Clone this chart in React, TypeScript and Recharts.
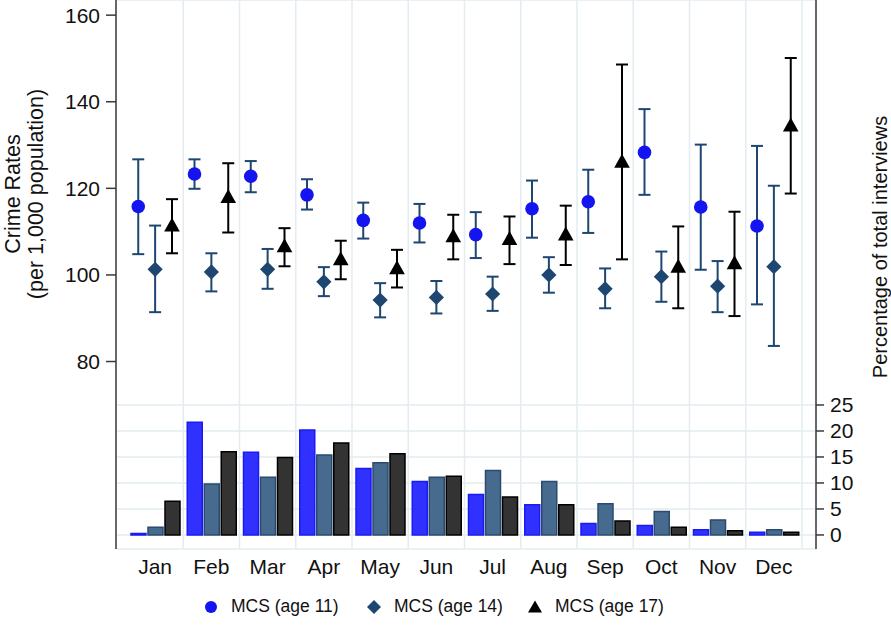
import { Bar, CartesianGrid, ComposedChart, ErrorBar, Scatter, XAxis, YAxis } from 'recharts';

const months = ['Jan', 'Feb', 'Mar', 'Apr', 'May', 'Jun', 'Jul', 'Aug', 'Sep', 'Oct', 'Nov', 'Dec'];

// share of interviews per month (%), right axis
const share11 = [0.3, 21.7, 15.9, 20.2, 12.8, 10.3, 7.8, 5.8, 2.2, 1.8, 1.0, 0.5];
const share14 = [1.5, 9.8, 11.1, 15.4, 13.9, 11.1, 12.4, 10.3, 6.0, 4.5, 2.9, 1.0];
const share17 = [6.5, 16.0, 14.9, 17.7, 15.6, 11.3, 7.3, 5.8, 2.7, 1.5, 0.8, 0.5];

// crime rates per 1,000 with confidence bounds, left axis
const rate11 = [115.8, 123.3, 122.8, 118.5, 112.6, 112.0, 109.3, 115.3, 116.9, 128.3, 115.7, 111.3];
const low11 = [104.8, 119.9, 119.1, 115.1, 108.4, 107.5, 103.9, 108.6, 109.7, 118.5, 101.2, 93.2];
const high11 = [126.7, 126.7, 126.3, 122.1, 116.7, 116.4, 114.5, 121.8, 124.3, 138.3, 130.1, 129.8];

const rate14 = [101.3, 100.7, 101.3, 98.4, 94.2, 94.8, 95.6, 100.0, 96.8, 99.6, 97.4, 101.9];
const low14 = [91.4, 96.2, 96.8, 95.1, 90.2, 91.1, 91.7, 95.9, 92.3, 93.8, 91.4, 83.6];
const high14 = [111.4, 105.0, 106.0, 101.8, 98.1, 98.6, 99.6, 104.1, 101.5, 105.4, 103.2, 120.6];

const rate17 = [111.3, 117.9, 106.5, 103.5, 101.4, 108.8, 108.2, 109.2, 126.0, 101.8, 102.6, 134.4];
const low17 = [105.0, 109.8, 102.0, 99.0, 97.1, 103.6, 102.5, 102.3, 103.6, 92.3, 90.5, 118.8];
const high17 = [117.5, 125.8, 110.8, 107.9, 105.8, 113.9, 113.5, 116.0, 148.6, 111.2, 114.6, 150.1];

const rateTicks = [80, 100, 120, 140, 160];
const shareTicks = [0, 5, 10, 15, 20, 25];
const monthEdges = months.map((_, i) => i + 1.5);

const FONT = '"Liberation Sans", Arial, sans-serif';
const BLUE = '#1414f0';
const NAVY = '#1d4670';
const AXIS = '#3a3a3a';

const barRows = months.map((month, i) => ({ month, s11: share11[i], s14: share14[i], s17: share17[i] }));

// scatter x sits on a numeric month axis, nudged to line up with its bar
function points(rate: number[], low: number[], high: number[], nudge: number) {
  return rate.map((y, i) => ({ x: i + 1 + nudge, y, err: [y - low[i], high[i] - y] }));
}

const pts11 = points(rate11, low11, high11, -0.3);
const pts14 = points(rate14, low14, high14, 0);
const pts17 = points(rate17, low17, high17, 0.3);

function Dot({ cx, cy }: any) {
  return <circle cx={cx} cy={cy} r={6.8} fill={BLUE} />;
}

function Diamond({ cx, cy }: any) {
  const s = 7.6;
  return <polygon points={`${cx},${cy - s} ${cx + s},${cy} ${cx},${cy + s} ${cx - s},${cy}`} fill={NAVY} />;
}

function Triangle({ cx, cy }: any) {
  return <polygon points={`${cx},${cy - 8.5} ${cx + 7.8},${cy + 5.5} ${cx - 7.8},${cy + 5.5}`} fill="#000" />;
}

// keeps the tick marks on the month-edge axis but draws no label
function NoLabel() {
  return <g />;
}

function LeftTitle({ viewBox }: any) {
  const x = (viewBox?.x ?? 0) + 12;
  const y = (viewBox?.y ?? 0) + 194;
  return (
    <text transform={`rotate(-90 ${x} ${y})`} x={x} y={y} textAnchor="middle" fontSize={21.5} fontFamily={FONT} fill="#111">
      <tspan x={x} dy="0.35em">Crime Rates</tspan>
      <tspan x={x} dy="1.1em">(per 1,000 population)</tspan>
    </text>
  );
}

function RightTitle({ viewBox }: any) {
  const x = (viewBox?.x ?? 816) + 64;
  const y = 247;
  return (
    <text transform={`rotate(-90 ${x} ${y})`} x={x} y={y} dy="0.35em" textAnchor="middle" fontSize={20} fontFamily={FONT} fill="#111">
      Percentage of total interviews
    </text>
  );
}

const legendItems = [
  { label: 'MCS (age 11)', left: 203, icon: <circle cx={8} cy={8} r={6} fill={BLUE} /> },
  { label: 'MCS (age 14)', left: 366, icon: <polygon points="8,1 15,8 8,15 1,8" fill={NAVY} /> },
  { label: 'MCS (age 17)', left: 527, icon: <polygon points="8,1.5 15,13.5 1,13.5" fill="#000" /> },
];

export default function App() {
  const tick = { fontSize: 21, fontFamily: FONT, fill: '#111' };
  return (
    <div style={{ position: 'absolute', left: 0, top: 0, width: 891, height: 626, background: '#fff' }}>
      <ComposedChart
        width={891}
        height={626}
        data={barRows}
        margin={{ top: 0, right: 0, bottom: 47, left: 0 }}
        barCategoryGap={4}
        barGap={2}
      >
        <CartesianGrid xAxisId="num" yAxisId="right" stroke="#e3ecf0" strokeWidth={1.5} />
        <XAxis
          xAxisId="num"
          dataKey="x"
          type="number"
          domain={[0.5, 12.5]}
          ticks={monthEdges}
          interval={0}
          padding={{ left: 11, right: 14 }}
          height={0}
          tick={<NoLabel />}
          tickSize={8}
          axisLine={{ stroke: AXIS, strokeWidth: 1.5 }}
          tickLine={{ stroke: AXIS, strokeWidth: 1.5 }}
        />
        <XAxis
          xAxisId="cat"
          dataKey="month"
          type="category"
          padding={{ left: 11, right: 14 }}
          height={30}
          axisLine={false}
          tickLine={false}
          tickSize={8}
          tickMargin={2}
          tick={tick}
          interval={0}
        />
        <YAxis
          yAxisId="left"
          dataKey="y"
          type="number"
          width={116}
          domain={[36.7, 163.5]}
          ticks={rateTicks}
          interval={0}
          allowDataOverflow
          tickSize={10}
          tickMargin={6}
          tick={tick}
          axisLine={{ stroke: AXIS, strokeWidth: 1.5 }}
          tickLine={{ stroke: AXIS, strokeWidth: 1.5 }}
          label={{ content: <LeftTitle /> }}
        />
        <YAxis
          yAxisId="right"
          orientation="right"
          type="number"
          width={75}
          domain={[-2.7, 102.9]}
          ticks={shareTicks}
          interval={0}
          allowDataOverflow
          tickSize={8}
          tickMargin={6}
          tick={tick}
          axisLine={{ stroke: AXIS, strokeWidth: 1.5 }}
          tickLine={{ stroke: AXIS, strokeWidth: 1.5 }}
          label={{ content: <RightTitle /> }}
        />
        <Bar xAxisId="cat" yAxisId="right" dataKey="s11" fill="#3030ff" stroke="#1a1af5" strokeWidth={1.5} isAnimationActive={false} />
        <Bar xAxisId="cat" yAxisId="right" dataKey="s14" fill="#476a8f" stroke="#2a4b6e" strokeWidth={1.5} isAnimationActive={false} />
        <Bar xAxisId="cat" yAxisId="right" dataKey="s17" fill="#333333" stroke="#000" strokeWidth={1.5} isAnimationActive={false} />
        <Scatter xAxisId="num" yAxisId="left" data={pts11} shape={<Dot />} isAnimationActive={false}>
          <ErrorBar dataKey="err" direction="y" width={6} stroke={NAVY} strokeWidth={2} />
        </Scatter>
        <Scatter xAxisId="num" yAxisId="left" data={pts14} shape={<Diamond />} isAnimationActive={false}>
          <ErrorBar dataKey="err" direction="y" width={6} stroke={NAVY} strokeWidth={2} />
        </Scatter>
        <Scatter xAxisId="num" yAxisId="left" data={pts17} shape={<Triangle />} isAnimationActive={false}>
          <ErrorBar dataKey="err" direction="y" width={6} stroke="#000" strokeWidth={2} />
        </Scatter>
      </ComposedChart>
      {legendItems.map((item) => (
        <div
          key={item.label}
          style={{
            position: 'absolute',
            left: item.left,
            top: 596,
            display: 'flex',
            alignItems: 'center',
            fontFamily: FONT,
            fontSize: 17.5,
            color: '#111',
          }}
        >
          <svg width={16} height={16} style={{ marginRight: 12 }}>
            {item.icon}
          </svg>
          {item.label}
        </div>
      ))}
    </div>
  );
}
